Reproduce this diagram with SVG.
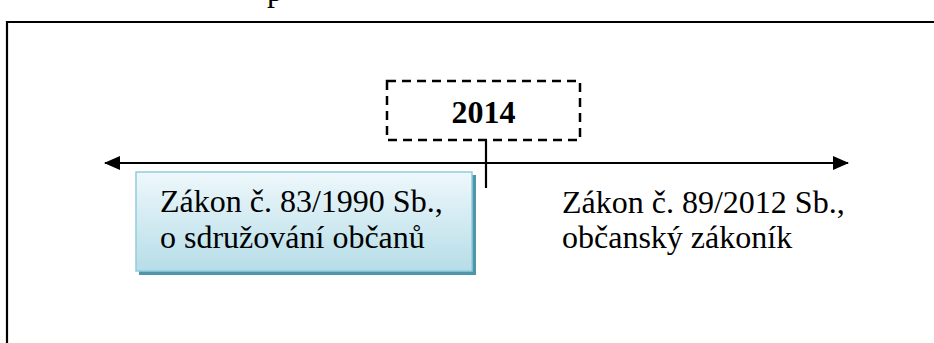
<svg xmlns="http://www.w3.org/2000/svg" width="934" height="343" viewBox="0 0 934 343">
  <style>
    .t { font-family: "Liberation Serif", "Times New Roman", serif; font-size: 32px; fill: #000; }
    .b { font-weight: bold; }
    .line { stroke: #000; stroke-width: 2.2; fill: none; }
  </style>
  <defs>
    <linearGradient id="g" x1="0" y1="0" x2="0" y2="1">
      <stop offset="0" stop-color="#eef8fb"/>
      <stop offset="1" stop-color="#b6dde8"/>
    </linearGradient>
    <marker id="ah" viewBox="0 0 16 14" refX="15" refY="7" markerWidth="16" markerHeight="14" markerUnits="userSpaceOnUse" orient="auto-start-reverse">
      <path d="M0,0 L16,7 L0,14 Z" fill="#000"/>
    </marker>
  </defs>

  <text class="t" x="267" y="1">p</text>

  <path class="line" d="M7,343 V22 H934" stroke-width="2.5"/>

  <g id="connectors">
    <line class="line" x1="105" y1="163" x2="848" y2="163" marker-start="url(#ah)" marker-end="url(#ah)"/>
    <line class="line" x1="486" y1="140" x2="486" y2="188"/>
  </g>

  <g id="node-2014">
    <rect x="387" y="81" width="193" height="59" fill="#fff" stroke="#000" stroke-width="2.5" stroke-dasharray="9,6"/>
    <text class="t b" x="483.5" y="123" text-anchor="middle">2014</text>
  </g>

  <g id="node-1990">
    <rect x="139" y="175" width="337" height="100" fill="#31849b" opacity="0.85"/>
    <rect x="136" y="172" width="336" height="99" fill="url(#g)" stroke="#92cddc" stroke-width="1.5"/>
    <text class="t" x="160" y="212">Zákon č. 83/1990 Sb.,</text>
    <text class="t" x="160" y="248">o sdružování občanů</text>
  </g>

  <g id="node-2012">
    <text class="t" x="562" y="213">Zákon č. 89/2012 Sb.,</text>
    <text class="t" x="562" y="248">občanský zákoník</text>
  </g>
</svg>
